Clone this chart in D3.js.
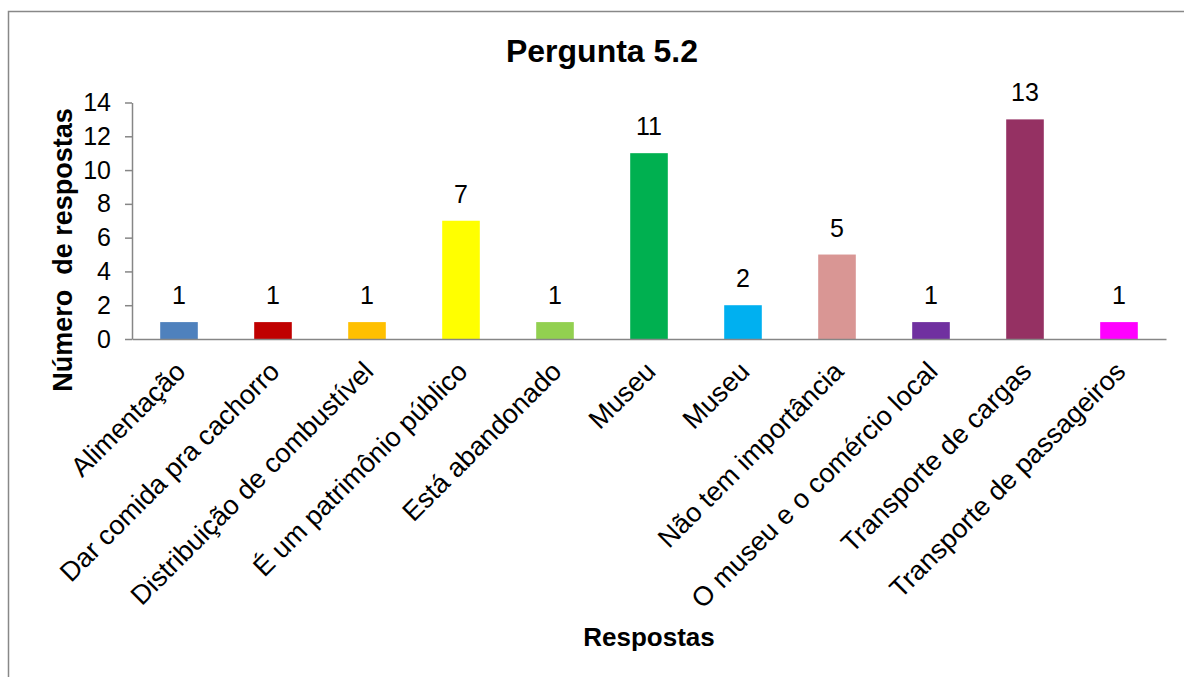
<!DOCTYPE html>
<html>
<head>
<meta charset="utf-8">
<script src="https://cdn.jsdelivr.net/npm/d3@7"></script>
<style>
  body { margin: 0; background: #fff; }
  text { font-family: Arial, "Liberation Sans", sans-serif; fill: #000; }
</style>
</head>
<body>
<div id="canvas"></div>
<script>
//chart values
var categories = ['Alimentação', 'Dar comida pra cachorro', 'Distribuição de combustível',
  'É um patrimônio público', 'Está abandonado', 'Museu', 'Museu', 'Não tem importância',
  'O museu e o comércio local', 'Transporte de cargas', 'Transporte de passageiros'];
var counts = [1, 1, 1, 7, 1, 11, 2, 5, 1, 13, 1];
var barColors = ['#4F81BD', '#C00000', '#FFC000', '#FFFF00', '#92D050', '#00B050',
  '#00B0F0', '#D99694', '#7030A0', '#953163', '#FF00FF'];
var yTicks = [0, 2, 4, 6, 8, 10, 12, 14];

//plot area
var cv = {
  'width': 1184,
  'height': 677,
  'left': 132,
  'right': 1166,
  'top': 102.5,
  'bottom': 339
};

var svg = d3.select('#canvas').append('svg')
  .attr('width', cv.width)
  .attr('height', cv.height);

//outer frame (runs past the window on right and bottom)
svg.append('rect')
  .attr('x', 8.5)
  .attr('y', 11.5)
  .attr('width', 1200)
  .attr('height', 700)
  .attr('fill', 'none')
  .attr('stroke', '#888888')
  .attr('stroke-width', 1.5);

var xScale = d3.scaleBand()
  .domain(d3.range(categories.length))
  .range([cv.left, cv.right])
  .paddingInner(0.6)
  .paddingOuter(0.3);

var yScale = d3.scaleLinear()
  .domain([0, 14])
  .range([cv.bottom, cv.top]);

//bars
svg.selectAll('.bar')
  .data(counts)
  .enter().append('rect')
  .attr('class', 'bar')
  .attr('x', (d, i) => xScale(i))
  .attr('y', d => yScale(d))
  .attr('width', xScale.bandwidth())
  .attr('height', d => yScale(0) - yScale(d))
  .attr('fill', (d, i) => barColors[i]);

//value labels
svg.selectAll('.val')
  .data(counts)
  .enter().append('text')
  .attr('class', 'val')
  .attr('x', (d, i) => xScale(i) + xScale.bandwidth() / 2)
  .attr('y', d => yScale(d) - 18)
  .attr('text-anchor', 'middle')
  .style('font-size', '25px')
  .text(d => d);

//y axis
var yAxis = svg.append('g')
  .attr('transform', 'translate(' + cv.left + ',0)')
  .call(d3.axisLeft(yScale).tickValues(yTicks).tickSize(7).tickSizeOuter(0).tickPadding(14));
yAxis.selectAll('text').style('font-size', '25px').style('font-family', 'Arial, "Liberation Sans", sans-serif');

//x axis
var xAxis = svg.append('g')
  .attr('transform', 'translate(0,' + cv.bottom + ')')
  .call(d3.axisBottom(xScale).tickSize(0).tickSizeOuter(0).tickFormat(i => categories[i]));
xAxis.selectAll('text')
  .style('font-size', '27px')
  .style('font-family', 'Arial, "Liberation Sans", sans-serif')
  .attr('text-anchor', 'end')
  .attr('dy', 0)
  .attr('transform', 'translate(6,32) rotate(-45)');

svg.selectAll('.domain, .tick line')
  .attr('stroke', '#868686')
  .attr('stroke-width', 1.5);

//titles
svg.append('text')
  .attr('x', 602)
  .attr('y', 62)
  .attr('text-anchor', 'middle')
  .style('font-size', '32px')
  .style('font-weight', 'bold')
  .text('Pergunta 5.2');

svg.append('text')
  .attr('x', (cv.left + cv.right) / 2)
  .attr('y', 646)
  .attr('text-anchor', 'middle')
  .style('font-size', '26px')
  .style('font-weight', 'bold')
  .text('Respostas');

svg.append('text')
  .attr('transform', 'translate(72,250) rotate(-90)')
  .attr('text-anchor', 'middle')
  .style('font-size', '27px')
  .style('font-weight', 'bold')
  .style('white-space', 'pre')
  .text('Número  de respostas');
</script>
</body>
</html>
